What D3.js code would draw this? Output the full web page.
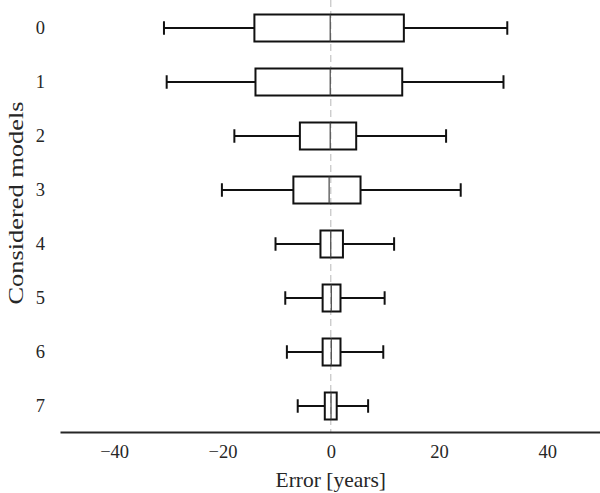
<!DOCTYPE html>
<html>
<head>
<meta charset="utf-8">
<script src="https://cdn.jsdelivr.net/npm/d3@7"></script>
<style>
  html, body { margin: 0; padding: 0; background: #fff; }
  svg { display: block; }
  text { font-family: "Liberation Serif", "DejaVu Serif", serif; fill: #262626; }
</style>
</head>
<body>
<svg id="chart" width="600" height="493"></svg>
<script>
const models = ["0", "1", "2", "3", "4", "5", "6", "7"];
const whiskerLow = [-30.8, -30.3, -17.8, -20.1, -10.2, -8.4, -8.1, -6.1];
const q1 = [-14.1, -13.9, -5.7, -6.9, -1.9, -1.5, -1.5, -1.1];
const median = [-0.1, -0.1, -0.1, -0.3, 0.0, 0.1, 0.1, 0.05];
const q3 = [13.5, 13.2, 4.7, 5.5, 2.25, 1.8, 1.8, 1.1];
const whiskerHigh = [32.6, 31.9, 21.3, 24.0, 11.7, 9.95, 9.7, 6.9];
const xTicks = [-40, -20, 0, 20, 40];

const svg = d3.select("#chart");
const x = d3.scaleLinear().domain([-50, 50]).range([60, 601.5]);
const y = d3.scaleBand().domain(models).range([1, 433]).paddingInner(0).paddingOuter(0);
const boxH = y.bandwidth() * 0.5;
const capH = boxH * 0.5;

// reference dashed line at 0
svg.append("line")
  .attr("x1", x(0)).attr("x2", x(0))
  .attr("y1", 0).attr("y2", 432)
  .attr("stroke", "#c8c8c8").attr("stroke-width", 1.3)
  .attr("stroke-dasharray", "7,4");

const data = models.map((m, i) => ({
  m, lo: whiskerLow[i], q1: q1[i], med: median[i], q3: q3[i], hi: whiskerHigh[i]
}));

const g = svg.append("g").selectAll("g").data(data).join("g")
  .attr("transform", d => `translate(0,${y(d.m) + y.bandwidth() / 2})`);

// whiskers
g.append("line").attr("x1", d => x(d.lo)).attr("x2", d => x(d.q1))
  .attr("y1", 0).attr("y2", 0).attr("stroke", "#111").attr("stroke-width", 2);
g.append("line").attr("x1", d => x(d.q3)).attr("x2", d => x(d.hi))
  .attr("y1", 0).attr("y2", 0).attr("stroke", "#111").attr("stroke-width", 2);
// caps
g.append("line").attr("x1", d => x(d.lo)).attr("x2", d => x(d.lo))
  .attr("y1", -capH / 2).attr("y2", capH / 2).attr("stroke", "#111").attr("stroke-width", 2);
g.append("line").attr("x1", d => x(d.hi)).attr("x2", d => x(d.hi))
  .attr("y1", -capH / 2).attr("y2", capH / 2).attr("stroke", "#111").attr("stroke-width", 2);
// box
g.append("rect").attr("x", d => x(d.q1)).attr("width", d => x(d.q3) - x(d.q1))
  .attr("y", -boxH / 2).attr("height", boxH)
  .attr("fill", "none").attr("stroke", "#111").attr("stroke-width", 2);
// median
g.append("line").attr("x1", d => x(d.med)).attr("x2", d => x(d.med))
  .attr("y1", -boxH / 2).attr("y2", boxH / 2).attr("stroke", "#444").attr("stroke-width", 1.2);

// x axis
const xAxis = svg.append("g").attr("transform", "translate(0,432)")
  .call(d3.axisBottom(x).tickValues(xTicks).tickSize(0).tickPadding(13)
    .tickFormat(d => d < 0 ? "\u2212" + Math.abs(d) : String(d)));
xAxis.select(".domain").attr("stroke", "#262626").attr("stroke-width", 2.2);
xAxis.selectAll("text").attr("font-size", 18.5).style("font-family", "'Liberation Serif', serif").attr("fill", "#262626");

// y axis
const yAxis = svg.append("g").attr("transform", "translate(60,0)")
  .call(d3.axisLeft(y).tickSize(0).tickPadding(15));
yAxis.select(".domain").remove();
yAxis.selectAll("text").attr("font-size", 18.5).style("font-family", "'Liberation Serif', serif").attr("fill", "#262626");

// axis labels
svg.append("text").attr("x", x(0)).attr("y", 487).attr("text-anchor", "middle")
  .attr("font-size", 21.5).text("Error [years]");
svg.append("text").attr("transform", `translate(18,203) rotate(-90) scale(1.2,1)`)
  .attr("text-anchor", "middle").attr("dominant-baseline", "middle")
  .attr("font-size", 22).text("Considered models");
</script>
</body>
</html>
